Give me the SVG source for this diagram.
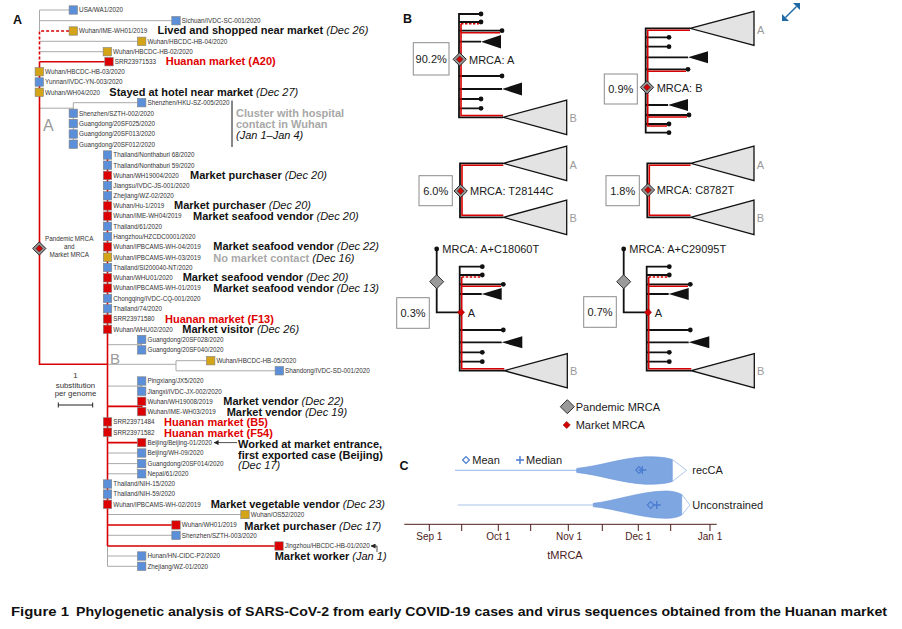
<svg xmlns="http://www.w3.org/2000/svg" xmlns:xlink="http://www.w3.org/1999/xlink" width="902" height="629" viewBox="0 0 902 629">
<defs>
<style>
text{font-family:"Liberation Sans",Arial,sans-serif}
.lf{font-size:6.3px;fill:#333}
.an{font-size:11px;font-weight:bold;fill:#111}
.it{font-style:italic;font-weight:normal}
.rd{fill:#e00000}
.gy{fill:#a8a8a8}
.cb{fill:#5b8fd9;stroke:#7f7f7f;stroke-width:.6}
.co{fill:#d3a417;stroke:#7f7f7f;stroke-width:.6}
.cr{fill:#dd0000;stroke:#7f7f7f;stroke-width:.6}
.g{stroke:#a9a9a9;stroke-width:1;fill:none}
.r{stroke:#d80000;stroke-width:1.6;fill:none}
.dash{stroke-dasharray:3 2}
.k{stroke:#111;stroke-width:1.8;fill:none}
.kr{stroke:#d80000;stroke-width:1.6;fill:none}
.kd{stroke:#d80000;stroke-width:1.6;fill:none;stroke-dasharray:2.5 1.5}
.tri{fill:#111}
.big{fill:#e3e3e3;stroke:#111;stroke-width:1.3}
.dot{fill:#111}
.bt{font-size:11px;fill:#1a1a1a}
.cl{font-size:11px;fill:#9a9a9a}
.lb{font-size:12.5px;font-weight:bold;fill:#111}
.box{fill:#fff;stroke:#8c8c8c;stroke-width:1}
.ax{stroke:#4d1c1c;stroke-width:1;fill:none}
.tk{font-size:10px;fill:#4d1c1c;text-anchor:middle}
</style>
<marker id="ah" viewBox="0 0 6 6" refX="5.5" refY="3" markerWidth="5" markerHeight="5" markerUnits="userSpaceOnUse" orient="auto"><path d="M0,0 L6,3 L0,6Z" fill="#222"/></marker>
<g id="dPM"><path d="M0,-6.6 L6.6,0 L0,6.6 L-6.6,0Z" fill="#999" stroke="#222" stroke-width="1"/><path d="M0,-3.4 L3.4,0 L0,3.4 L-3.4,0Z" fill="#d40000" stroke="#333" stroke-width=".6"/></g>
<g id="dP"><path d="M0,-7 L7,0 L0,7 L-7,0Z" fill="#9a9a9a" stroke="#333" stroke-width="1"/></g>
<g id="dM"><path d="M0,-3.6 L3.6,0 L0,3.6 L-3.6,0Z" fill="#d40000" stroke="#7a0000" stroke-width=".5"/></g>
</defs>
<rect width="902" height="629" fill="#fff"/>

<!-- ================= PANEL A ================= -->
<text class="lb" x="13" y="24">A</text>
<text x="43" y="130.5" font-size="16" fill="#9a9a9a">A</text>
<text x="110" y="364.3" font-size="15" fill="#9a9a9a">B</text>

<g id="connectors-A">
  <path class="g" d="M39.5,10 V31 M39.5,10 H69.1 M39.5,20.7 H171.8 M39.5,41.3 H137.5 M39.5,51.7 H103.1 M39.5,108.2 H73.3 M73.3,102.7 V144.2 M73.3,102.7 H137.5"/>
  <path class="g" d="M107.5,344.7 H141.7 M141.7,339.5 V349.9 M107.5,364.3 H176 M176,360.7 V370.8 M176,360.7 H206.5 M176,370.8 H275.1 M107.5,386.1 H141.7 M141.7,381 V391.2 M107.5,453 H137.5 M107.5,463.6 H137.5 M107.5,473.8 H137.5 M107.5,514.5 H240.8 M107.5,535.3 H171.8 M107.5,546 V566.3 M107.5,556 H137.5 M107.5,566.3 H137.5"/>
  <path class="r dash" d="M69.1,31 H39.5 V61.7"/>
  <path class="r" d="M39.5,61.7 H104.8 M39.5,61.7 V364.3 H107.5 M107.5,152 V546 M107.5,406.4 H141.7 M141.7,401.3 V411.6 M107.5,442.6 H137.5 M107.5,525 H171.8 M107.5,546 H274.8"/>
  <path d="M237,442.6 H214" stroke="#222" stroke-width=".8" fill="none" marker-end="url(#ah)"/>
  <path d="M377,552 V546 H371" stroke="#222" stroke-width=".8" fill="none" marker-end="url(#ah)"/>
  <path d="M58.3,405 H92.7 M58.3,402.5 V407.5 M92.7,402.5 V407.5" stroke="#222" stroke-width="1" fill="none"/>
</g>

<g id="root-mrca"><use href="#dPM" x="39.3" y="248.5"/>
  <text x="69.2" y="241.3" font-size="6.3" fill="#333" text-anchor="middle">Pandemic MRCA</text>
  <text x="69.2" y="249.3" font-size="6.3" fill="#333" text-anchor="middle">and</text>
  <text x="69.2" y="257" font-size="6.3" fill="#333" text-anchor="middle">Market MRCA</text>
</g>
<g id="scale-bar" font-size="7.8" fill="#333" text-anchor="middle">
  <text x="75.5" y="378">1</text><text x="75.5" y="387.5">substitution</text><text x="75.5" y="396">per genome</text>
</g>

<g id="leaf-usa"><rect class="cb" x="69.1" y="5.8" width="8.4" height="8.4"/><text class="lf" x="79.1" y="12.3">USA/WA1/2020</text></g>
<g id="leaf-sichuan"><rect class="cb" x="171.8" y="16.5" width="8.4" height="8.4"/><text class="lf" x="181.8" y="23">Sichuan/IVDC-SC-001/2020</text></g>
<g id="leaf-ime-wh01"><rect class="co" x="69.1" y="26.8" width="8.4" height="8.4"/><text class="lf" x="79.1" y="33.3">Wuhan/IME-WH01/2019</text>
  <text class="an" x="157.5" y="34.3">Lived and shopped near market <tspan class="it">(Dec 26)</tspan></text></g>
<g id="leaf-hb04"><rect class="co" x="137.5" y="37.1" width="8.4" height="8.4"/><text class="lf" x="147.5" y="43.6">Wuhan/HBCDC-HB-04/2020</text></g>
<g id="leaf-hb02"><rect class="co" x="103.1" y="47.5" width="8.4" height="8.4"/><text class="lf" x="113.1" y="54">Wuhan/HBCDC-HB-02/2020</text></g>
<g id="leaf-srr533"><rect class="cr" x="104.8" y="57.5" width="8.4" height="8.4"/><text class="lf" x="114.8" y="64">SRR23971533</text>
  <text class="an rd" x="165.7" y="65">Huanan market (A20)</text></g>
<g id="leaf-hb03"><rect class="co" x="35.1" y="67.5" width="8.4" height="8.4"/><text class="lf" x="45.1" y="74">Wuhan/HBCDC-HB-03/2020</text></g>
<g id="leaf-yunnan"><rect class="cb" x="35.1" y="77.8" width="8.4" height="8.4"/><text class="lf" x="45.1" y="84.3">Yunnan/IVDC-YN-003/2020</text></g>
<g id="leaf-wh04"><rect class="co" x="35.1" y="88.1" width="8.4" height="8.4"/><text class="lf" x="45.1" y="94.6">Wuhan/WH04/2020</text>
  <text class="an" x="109.3" y="95.7">Stayed at hotel near market <tspan class="it">(Dec 27)</tspan></text></g>
<g id="leaf-hku005"><rect class="cb" x="137.5" y="98.5" width="8.4" height="8.4"/><text class="lf" x="147.5" y="105">Shenzhen/HKU-SZ-005/2020</text></g>
<g id="leaf-szth002"><rect class="cb" x="69.1" y="109.1" width="8.4" height="8.4"/><text class="lf" x="79.1" y="115.6">Shenzhen/SZTH-002/2020</text></g>
<g id="leaf-20sf025"><rect class="cb" x="69.1" y="119.4" width="8.4" height="8.4"/><text class="lf" x="79.1" y="125.9">Guangdong/20SF025/2020</text></g>
<g id="leaf-20sf013"><rect class="cb" x="69.1" y="129.8" width="8.4" height="8.4"/><text class="lf" x="79.1" y="136.3">Guangdong/20SF013/2020</text></g>
<g id="leaf-20sf012"><rect class="cb" x="69.1" y="140" width="8.4" height="8.4"/><text class="lf" x="79.1" y="146.5">Guangdong/20SF012/2020</text></g>
<g id="cluster-note"><path d="M232,100.5 V147" stroke="#111" stroke-width="1"/>
  <text class="an gy" x="236" y="117">Cluster with hospital</text>
  <text class="an gy" x="236" y="128">contact in Wuhan</text>
  <text class="an it" x="236" y="139">(Jan 1–Jan 4)</text></g>

<g id="leaf-non68"><rect class="cb" x="103.3" y="150.8" width="8.4" height="8.4"/><text class="lf" x="113.3" y="157.3">Thailand/Nonthaburi 68/2020</text></g>
<g id="leaf-non59"><rect class="cb" x="103.3" y="161" width="8.4" height="8.4"/><text class="lf" x="113.3" y="167.5">Thailand/Nonthaburi 59/2020</text></g>
<g id="leaf-wh19004"><rect class="cr" x="103.3" y="171.2" width="8.4" height="8.4"/><text class="lf" x="113.3" y="177.7">Wuhan/WH19004/2020</text>
  <text class="an" x="190" y="178.6">Market purchaser <tspan class="it">(Dec 20)</tspan></text></g>
<g id="leaf-js001"><rect class="cb" x="103.3" y="181.4" width="8.4" height="8.4"/><text class="lf" x="113.3" y="187.9">Jiangsu/IVDC-JS-001/2020</text></g>
<g id="leaf-wz02"><rect class="cb" x="103.3" y="191.6" width="8.4" height="8.4"/><text class="lf" x="113.3" y="198.1">Zhejiang/WZ-02/2020</text></g>
<g id="leaf-hu1"><rect class="cr" x="103.3" y="201.7" width="8.4" height="8.4"/><text class="lf" x="113.3" y="208.2">Wuhan/Hu-1/2019</text>
  <text class="an" x="174" y="209">Market purchaser <tspan class="it">(Dec 20)</tspan></text></g>
<g id="leaf-imewh04"><rect class="cr" x="103.3" y="211.9" width="8.4" height="8.4"/><text class="lf" x="113.3" y="218.4">Wuhan/IME-WH04/2019</text>
  <text class="an" x="193" y="219.8">Market seafood vendor <tspan class="it">(Dec 20)</tspan></text></g>
<g id="leaf-th61"><rect class="cb" x="103.3" y="222.1" width="8.4" height="8.4"/><text class="lf" x="113.3" y="228.6">Thailand/61/2020</text></g>
<g id="leaf-hz0001"><rect class="cb" x="103.3" y="232.4" width="8.4" height="8.4"/><text class="lf" x="113.3" y="238.9">Hangzhou/HZCDC0001/2020</text></g>
<g id="leaf-ipb04"><rect class="cr" x="103.3" y="242.7" width="8.4" height="8.4"/><text class="lf" x="113.3" y="249.2">Wuhan/IPBCAMS-WH-04/2019</text>
  <text class="an" x="213.3" y="250.2">Market seafood vendor <tspan class="it">(Dec 22)</tspan></text></g>
<g id="leaf-ipb03"><rect class="co" x="103.3" y="253" width="8.4" height="8.4"/><text class="lf" x="113.3" y="259.5">Wuhan/IPBCAMS-WH-03/2019</text>
  <text class="an" x="213.3" y="261.5"><tspan class="gy">No market contact </tspan><tspan class="it">(Dec 16)</tspan></text></g>
<g id="leaf-si200040"><rect class="cb" x="103.3" y="263.3" width="8.4" height="8.4"/><text class="lf" x="113.3" y="269.8">Thailand/SI200040-NT/2020</text></g>
<g id="leaf-whu01"><rect class="cr" x="103.3" y="273.6" width="8.4" height="8.4"/><text class="lf" x="113.3" y="280.1">Wuhan/WHU01/2020</text>
  <text class="an" x="182.7" y="281.2">Market seafood vendor <tspan class="it">(Dec 20)</tspan></text></g>
<g id="leaf-ipb01"><rect class="cr" x="103.3" y="283.9" width="8.4" height="8.4"/><text class="lf" x="113.3" y="290.4">Wuhan/IPBCAMS-WH-01/2019</text>
  <text class="an" x="213.3" y="291.5">Market seafood vendor <tspan class="it">(Dec 13)</tspan></text></g>
<g id="leaf-cq001"><rect class="cb" x="103.3" y="294.2" width="8.4" height="8.4"/><text class="lf" x="113.3" y="300.7">Chongqing/IVDC-CQ-001/2020</text></g>
<g id="leaf-th74"><rect class="cb" x="103.3" y="304.5" width="8.4" height="8.4"/><text class="lf" x="113.3" y="311">Thailand/74/2020</text></g>
<g id="leaf-srr580"><rect class="cr" x="103.3" y="314.8" width="8.4" height="8.4"/><text class="lf" x="113.3" y="321.3">SRR23971580</text>
  <text class="an rd" x="165" y="322.5">Huanan market (F13)</text></g>
<g id="leaf-whu02"><rect class="cr" x="103.3" y="325.1" width="8.4" height="8.4"/><text class="lf" x="113.3" y="331.6">Wuhan/WHU02/2020</text>
  <text class="an" x="182.3" y="333">Market visitor <tspan class="it">(Dec 26)</tspan></text></g>
<g id="leaf-20sf028"><rect class="cb" x="137.5" y="335.3" width="8.4" height="8.4"/><text class="lf" x="147.5" y="341.8">Guangdong/20SF028/2020</text></g>
<g id="leaf-20sf040"><rect class="cb" x="137.5" y="345.7" width="8.4" height="8.4"/><text class="lf" x="147.5" y="352.2">Guangdong/20SF040/2020</text></g>
<g id="leaf-hb05"><rect class="co" x="206.5" y="356.5" width="8.4" height="8.4"/><text class="lf" x="216.5" y="363">Wuhan/HBCDC-HB-05/2020</text></g>
<g id="leaf-sd001"><rect class="cb" x="275.1" y="366.6" width="8.4" height="8.4"/><text class="lf" x="285.1" y="373.1">Shandong/IVDC-SD-001/2020</text></g>
<g id="leaf-jx5"><rect class="cb" x="137.5" y="376.8" width="8.4" height="8.4"/><text class="lf" x="147.5" y="383.3">Pingxiang/JX5/2020</text></g>
<g id="leaf-jx002"><rect class="cb" x="137.5" y="387" width="8.4" height="8.4"/><text class="lf" x="147.5" y="393.5">Jiangxi/IVDC-JX-002/2020</text></g>
<g id="leaf-wh19008"><rect class="cr" x="137.5" y="397.1" width="8.4" height="8.4"/><text class="lf" x="147.5" y="403.6">Wuhan/WH19008/2019</text>
  <text class="an" x="223.3" y="405">Market vendor <tspan class="it">(Dec 22)</tspan></text></g>
<g id="leaf-imewh03"><rect class="cr" x="137.5" y="407.4" width="8.4" height="8.4"/><text class="lf" x="147.5" y="413.9">Wuhan/IME-WH03/2019</text>
  <text class="an" x="226.7" y="415.5">Market vendor <tspan class="it">(Dec 19)</tspan></text></g>
<g id="leaf-srr484"><rect class="cr" x="103.3" y="417.7" width="8.4" height="8.4"/><text class="lf" x="113.3" y="424.2">SRR23971484</text>
  <text class="an rd" x="164" y="426">Huanan market (B5)</text></g>
<g id="leaf-srr582"><rect class="cr" x="103.3" y="428" width="8.4" height="8.4"/><text class="lf" x="113.3" y="434.5">SRR23971582</text>
  <text class="an rd" x="164" y="436.5">Huanan market (F54)</text></g>
<g id="leaf-bj01"><rect class="cr" x="137.5" y="438.4" width="8.4" height="8.4"/><text class="lf" x="147.5" y="444.9">Beijing/Beijing-01/2020</text>
  <text class="an" x="238" y="447.5">Worked at market entrance,</text>
  <text class="an" x="238" y="458.5">first exported case (Beijing)</text>
  <text class="an it" x="238" y="469">(Dec 17)</text></g>
<g id="leaf-bjwh09"><rect class="cb" x="137.5" y="448.8" width="8.4" height="8.4"/><text class="lf" x="147.5" y="455.3">Beijing/WH-09/2020</text></g>
<g id="leaf-20sf014"><rect class="cb" x="137.5" y="459.4" width="8.4" height="8.4"/><text class="lf" x="147.5" y="465.9">Guangdong/20SF014/2020</text></g>
<g id="leaf-nepal61"><rect class="cb" x="137.5" y="469.6" width="8.4" height="8.4"/><text class="lf" x="147.5" y="476.1">Nepal/61/2020</text></g>
<g id="leaf-nih15"><rect class="cb" x="103.3" y="479.8" width="8.4" height="8.4"/><text class="lf" x="113.3" y="486.3">Thailand/NIH-15/2020</text></g>
<g id="leaf-nih59"><rect class="cb" x="103.3" y="489.9" width="8.4" height="8.4"/><text class="lf" x="113.3" y="496.4">Thailand/NIH-59/2020</text></g>
<g id="leaf-ipb02"><rect class="cr" x="103.3" y="500.1" width="8.4" height="8.4"/><text class="lf" x="113.3" y="506.6">Wuhan/IPBCAMS-WH-02/2019</text>
  <text class="an" x="210.7" y="507.8">Market vegetable vendor <tspan class="it">(Dec 23)</tspan></text></g>
<g id="leaf-os52"><rect class="co" x="240.8" y="510.3" width="8.4" height="8.4"/><text class="lf" x="250.8" y="516.8">Wuhan/OS52/2020</text></g>
<g id="leaf-wh01"><rect class="cr" x="171.8" y="520.8" width="8.4" height="8.4"/><text class="lf" x="181.8" y="527.3">Wuhan/WH01/2019</text>
  <text class="an" x="244.3" y="529.5">Market purchaser <tspan class="it">(Dec 17)</tspan></text></g>
<g id="leaf-szth003"><rect class="cb" x="171.8" y="531.1" width="8.4" height="8.4"/><text class="lf" x="181.8" y="537.6">Shenzhen/SZTH-003/2020</text></g>
<g id="leaf-jingzhou"><rect class="cr" x="274.8" y="541.8" width="8.4" height="8.4"/><text class="lf" x="284.8" y="548.3">Jingzhou/HBCDC-HB-01/2020</text>
  <text class="an" x="274.7" y="560">Market worker <tspan class="it">(Jan 1)</tspan></text></g>
<g id="leaf-hunan"><rect class="cb" x="137.5" y="551.8" width="8.4" height="8.4"/><text class="lf" x="147.5" y="558.3">Hunan/HN-CIDC-P2/2020</text></g>
<g id="leaf-wz01"><rect class="cb" x="137.5" y="562.1" width="8.4" height="8.4"/><text class="lf" x="147.5" y="568.6">Zhejiang/WZ-01/2020</text></g>

<!-- ================= PANEL B ================= -->
<text class="lb" x="403" y="23.3">B</text>
<g id="expand-icon" fill="#1f6aa5"><path d="M785.5,17.5 L796.5,6.5" stroke="#1f6aa5" stroke-width="1.5"/><path d="M782,21 V14 L789,21Z"/><path d="M800,3 H793 L800,10Z"/></g>

<g id="tree-mrca-a">
  <path class="k" d="M459,13.1 V118.2 M459,14 H481 M459,22 H481 M459,30.7 H502 M459,41.7 H481 M459,76 H502 M459,89 H502 M459,99 H481 M459,108.3 H481 M459,117.3 H503"/>
  <path class="kr" d="M461,23.7 V115.5 H503 M461,32.7 H500"/>
  <path class="kd" d="M461,23.7 H479"/>
  <g class="dot"><circle cx="481" cy="14" r="2.4"/><circle cx="481" cy="22" r="2.4"/><circle cx="502" cy="30.7" r="2.4"/><circle cx="502" cy="76" r="2.4"/><circle cx="481" cy="99" r="2.4"/><circle cx="481" cy="108.3" r="2.4"/></g>
  <path class="tri" d="M481,41.7 L501,35 V48.4Z M502,89 L522,82.5 V95.5Z"/>
  <path class="big" d="M503,117.3 L566.7,100 V134.6Z"/>
  <text class="cl" x="569.5" y="121.5">B</text>
  <use href="#dPM" x="459.7" y="59.3"/>
  <text class="bt" x="469" y="63.5">MRCA: A</text>
  <rect class="box" x="413.3" y="42.7" width="35.7" height="32.3"/>
  <text class="bt" x="431.2" y="63" text-anchor="middle">90.2%</text>
</g>

<g id="tree-mrca-b">
  <path class="k" d="M645.7,27.4 V133.6 M645.7,28.3 H690 M645.7,37.3 H669 M645.7,46.7 H669 M645.7,57.3 H688 M645.7,69.3 H688 M645.7,105 H668 M645.7,115 H689 M645.7,124 H669 M645.7,132.7 H669"/>
  <path class="kr" d="M690,30.3 H647.7 V126 H667 M647.7,71.3 H686 M647.7,117 H687"/>
  <g class="dot"><circle cx="669" cy="37.3" r="2.4"/><circle cx="669" cy="46.7" r="2.4"/><circle cx="688" cy="69.3" r="2.4"/><circle cx="689" cy="115" r="2.4"/><circle cx="669" cy="124" r="2.4"/><circle cx="669" cy="132.7" r="2.4"/></g>
  <path class="tri" d="M688,57.3 L708,51.3 V63.3Z M668,105 L688,99 V111Z"/>
  <path class="big" d="M690,28.3 L754,11.3 V45.3Z"/>
  <text class="cl" x="757" y="34">A</text>
  <use href="#dPM" x="647" y="87.3"/>
  <text class="bt" x="656.7" y="91.5">MRCA: B</text>
  <rect class="box" x="604.3" y="74" width="33" height="30"/>
  <text class="bt" x="620.8" y="93" text-anchor="middle">0.9%</text>
</g>

<g id="tree-t28144c">
  <path class="k" d="M460,162.4 V218.2 M460,163.3 H503.3 M460,217.3 H503.3"/>
  <path class="kr" d="M503.3,165.3 H462 V215.3 H503.3"/>
  <path class="big" d="M503.3,163.3 L566.7,146 V180.6Z M503.3,217.3 L566.7,200 V234.6Z"/>
  <text class="cl" x="569.5" y="169">A</text><text class="cl" x="569.5" y="221.5">B</text>
  <use href="#dPM" x="460.7" y="191"/>
  <text class="bt" x="470" y="195">MRCA: T28144C</text>
  <rect class="box" x="419" y="175.7" width="33.3" height="30"/>
  <text class="bt" x="435.7" y="194.5" text-anchor="middle">6.0%</text>
</g>

<g id="tree-c8782t">
  <g transform="translate(187.3,0)">
  <path class="k" d="M460,162.4 V218.2 M460,163.3 H503.3 M460,217.3 H503.3"/>
  <path class="kr" d="M503.3,165.3 H462 V215.3 H503.3"/>
  <path class="big" d="M503.3,163.3 L566.7,146 V180.6Z M503.3,217.3 L566.7,200 V234.6Z"/>
  <text class="cl" x="569.5" y="169">A</text><text class="cl" x="569.5" y="221.5">B</text>
  <use href="#dPM" x="460.7" y="190"/>
  </g>
  <text class="bt" x="656.7" y="194">MRCA: C8782T</text>
  <rect class="box" x="606" y="175.7" width="33.3" height="30"/>
  <text class="bt" x="622.7" y="194.5" text-anchor="middle">1.8%</text>
</g>

<g id="tree-c18060t">
  <path class="k" d="M436.7,249 V312.3 H461 M459.7,265.8 V371.6 M459.7,266.7 H482.3 M459.7,275 H482.3 M459.7,284.3 H503.3 M459.7,294 H481.7 M459.7,330 H503.3 M459.7,342.3 H501.7 M459.7,352.3 H482.3 M459.7,361.7 H482.3 M459.7,370.7 H504.3"/>
  <path class="kr" d="M461.7,277 V368.7 H504.3 M461.7,286.3 H501"/>
  <path class="kd" d="M461.7,277 H480.3"/>
  <g class="dot"><circle cx="436.7" cy="249" r="2.4"/><circle cx="482.3" cy="266.7" r="2.4"/><circle cx="482.3" cy="275" r="2.4"/><circle cx="503.3" cy="284.3" r="2.4"/><circle cx="503.3" cy="330" r="2.4"/><circle cx="482.3" cy="352.3" r="2.4"/><circle cx="482.3" cy="361.7" r="2.4"/></g>
  <path class="tri" d="M481.7,294 L501.7,288 V300Z M501.7,342.3 L522.3,336.3 V348.3Z"/>
  <path class="big" d="M504.3,370.7 L567.3,353.5 V387.9Z"/>
  <text class="cl" x="570" y="375">B</text>
  <use href="#dP" x="436.7" y="281.7"/>
  <use href="#dM" x="461" y="312.3"/>
  <text class="bt" x="467.7" y="316.7">A</text>
  <text class="bt" x="442.3" y="252.7">MRCA: A+C18060T</text>
  <rect class="box" x="396.7" y="297.7" width="32.6" height="30.6"/>
  <text class="bt" x="413" y="317" text-anchor="middle">0.3%</text>
</g>

<g id="tree-c29095t">
  <g transform="translate(187,0)">
  <path class="k" d="M436.7,249 V312.3 H461 M459.7,265.8 V371.6 M459.7,266.7 H482.3 M459.7,275 H482.3 M459.7,284.3 H503.3 M459.7,294 H481.7 M459.7,330 H503.3 M459.7,342.3 H501.7 M459.7,352.3 H482.3 M459.7,361.7 H482.3 M459.7,370.7 H504.3"/>
  <path class="kr" d="M461.7,277 V368.7 H504.3 M461.7,286.3 H501"/>
  <path class="kd" d="M461.7,277 H480.3"/>
  <g class="dot"><circle cx="436.7" cy="249" r="2.4"/><circle cx="482.3" cy="266.7" r="2.4"/><circle cx="482.3" cy="275" r="2.4"/><circle cx="503.3" cy="284.3" r="2.4"/><circle cx="503.3" cy="330" r="2.4"/><circle cx="482.3" cy="352.3" r="2.4"/><circle cx="482.3" cy="361.7" r="2.4"/></g>
  <path class="tri" d="M481.7,294 L501.7,288 V300Z M501.7,342.3 L522.3,336.3 V348.3Z"/>
  <path class="big" d="M504.3,370.7 L567.3,353.5 V387.9Z"/>
  <text class="cl" x="570" y="375">B</text>
  <use href="#dP" x="436.7" y="281.7"/>
  <use href="#dM" x="461" y="312.3"/>
  <text class="bt" x="467.7" y="316.7">A</text>
  <text class="bt" x="442.3" y="252.7">MRCA: A+C29095T</text>
  </g>
  <rect class="box" x="583.7" y="296.7" width="32.6" height="30.6"/>
  <text class="bt" x="600" y="316" text-anchor="middle">0.7%</text>
</g>

<g id="legend-b">
  <use href="#dP" x="567.3" y="406.7"/>
  <text class="bt" x="575.7" y="410.5">Pandemic MRCA</text>
  <use href="#dM" x="566.7" y="425"/>
  <text class="bt" x="575.7" y="429">Market MRCA</text>
</g>

<!-- ================= PANEL C ================= -->
<text class="lb" x="399.5" y="469.5">C</text>
<g id="legend-c">
  <path d="M466,456.6 L469.4,460 L466,463.4 L462.6,460Z" fill="none" stroke="#4a7bd0" stroke-width="1.2"/>
  <text class="bt" x="472.3" y="464" fill="#3a1e1e">Mean</text>
  <path d="M516,460 H524 M520,456 V464" stroke="#4a7bd0" stroke-width="1.4"/>
  <text class="bt" x="526" y="464" fill="#3a1e1e">Median</text>
</g>
<g id="violin-recca">
  <path d="M455,470.3 H577" stroke="#a9c3ec" stroke-width="1.2"/>
  <path d="M576.7,468.4 C600,466 622,458 645,456.8 C660,456.5 668,458 672.3,459.5 L672.3,481.5 C668,483 660,484.5 645,484.2 C622,483 600,475 576.7,472.4Z" fill="#7ea7e2" stroke="#6a93d8" stroke-width=".6"/>
  <path d="M672.3,459.5 L686.7,470.3 L672.3,481.5" fill="none" stroke="#8aaee4" stroke-width=".7"/>
  <path d="M639,466.6 L642.4,470 L639,473.4 L635.6,470Z" fill="none" stroke="#4a7bd0" stroke-width="1.1"/>
  <path d="M638.3,470 H646.3 M642.3,466 V474" stroke="#4a7bd0" stroke-width="1.3"/>
  <text class="bt" x="692.3" y="474.3">recCA</text>
</g>
<g id="violin-unconstrained">
  <path d="M457.7,505 H594" stroke="#a9c3ec" stroke-width="1.2"/>
  <path d="M593.3,503.3 C615,501 640,491.5 665,491 C673,491 678,492.5 681.7,494.5 L681.7,515 C678,517 673,518.5 665,518.3 C640,518 615,508.5 593.3,506.7Z" fill="#7ea7e2" stroke="#6a93d8" stroke-width=".6"/>
  <path d="M681.7,494.5 L690,505 L681.7,515" fill="none" stroke="#8aaee4" stroke-width=".7"/>
  <path d="M650.7,501.6 L654.1,505 L650.7,508.4 L647.3,505Z" fill="none" stroke="#4a7bd0" stroke-width="1.1"/>
  <path d="M652.7,505 H660.7 M656.7,501 V509" stroke="#4a7bd0" stroke-width="1.3"/>
  <text class="bt" x="692.3" y="509">Unconstrained</text>
</g>
<g id="axis-c">
  <path class="ax" d="M404.3,524.3 H716.7 M429.3,524.3 V531 M461.7,524.3 V531 M498.3,524.3 V531 M530.7,524.3 V531 M568.3,524.3 V531 M602.3,524.3 V531 M638.3,524.3 V531 M670.7,524.3 V531 M710,524.3 V531"/>
  <text class="tk" x="429.3" y="540">Sep 1</text>
  <text class="tk" x="498.3" y="540">Oct 1</text>
  <text class="tk" x="569" y="540">Nov 1</text>
  <text class="tk" x="638.3" y="540">Dec 1</text>
  <text class="tk" x="710" y="540">Jan 1</text>
  <text x="565" y="559" font-size="11" fill="#4d1c1c" text-anchor="middle">tMRCA</text>
</g>

<!-- ================= CAPTION ================= -->
<g id="caption" font-size="13" font-weight="bold" fill="#111">
  <text x="11" y="616" textLength="58" lengthAdjust="spacingAndGlyphs">Figure 1</text>
  <text x="76" y="616" textLength="811" lengthAdjust="spacingAndGlyphs">Phylogenetic analysis of SARS-CoV-2 from early COVID-19 cases and virus sequences obtained from the Huanan market</text>
</g>
</svg>
